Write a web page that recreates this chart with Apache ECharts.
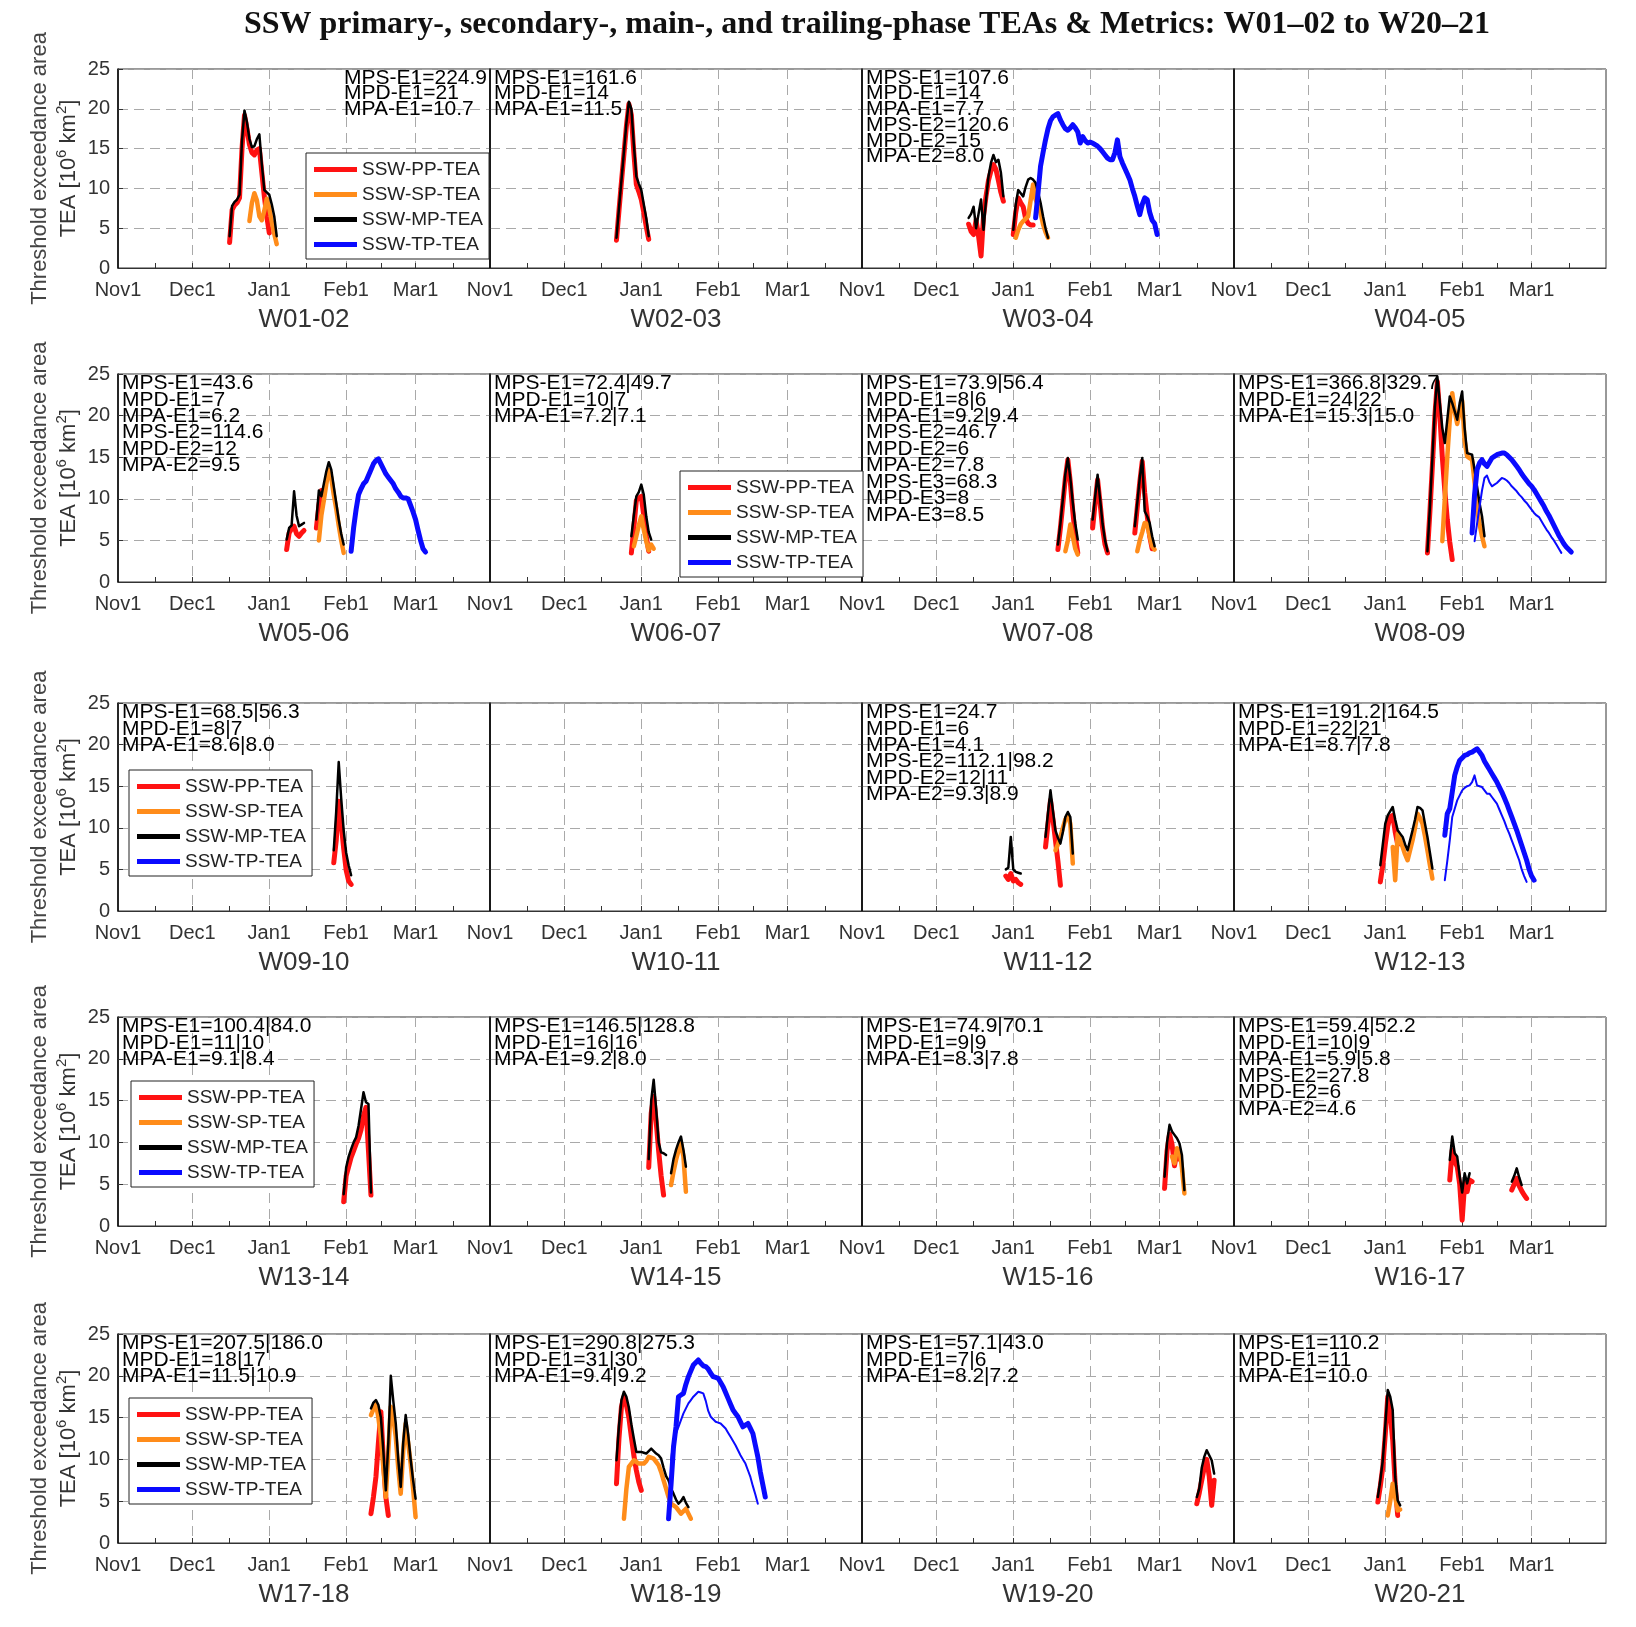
<!DOCTYPE html>
<html><head><meta charset="utf-8">
<script src="https://cdn.jsdelivr.net/npm/echarts@6/dist/echarts.min.js"></script>
<style>html,body{margin:0;padding:0;background:#fff}#c{width:1636px;height:1627px}</style>
</head><body><div id="c"></div>
<script>
// ---------- data ----------
const seasons = ['W01-02','W02-03','W03-04','W04-05','W05-06','W06-07','W07-08','W08-09','W09-10','W10-11',
                 'W11-12','W12-13','W13-14','W14-15','W15-16','W16-17','W17-18','W18-19','W19-20','W20-21'];
const monthNames = ['Nov','Dec','Jan','Feb','Mar'];
const monthLengths = [30,31,31,28,31];
const tickLabels = ['Nov1','Dec1','Jan1','Feb1','Mar1'];
const gridDays = [30,61,92,120];
const minorTickDays = [15,30,45,61,76,92,106,120,135];
const seriesNames = ['SSW-PP-TEA','SSW-SP-TEA','SSW-MP-TEA','SSW-TP-TEA'];

// segments: [start day index (0 = Nov1), daily values]
const PP = {
 'W01-02': [[45,[3.2,7.3,7.9,8.2,8.8,15,19.2,17.5,15.5,14.5,14.2,14.8,15.0,12,9,6.5,4.4]]],
 'W02-03': [[51,[3.5,7.2,10.8,14.3,17.8,20.6,19.2,14.5,10.5,9.6,8.6,7.0,5.2,3.6]]],
 'W03-04': [[43,[5.5,4.6,4.2,6.0,4.0,1.5,6.5,9.0,11.0,12.2,13.0,12.4,11.0,9.5,8.4]],[61,[4.2,7.0,8.8,8.2,7.7,6.2,5.6,5.4,5.4]]],
 'W05-06': [[68,[3.9,5.9,6.4,6.7,5.8,5.5,5.9,6.2]],[80,[6.5,9.2,11.0]]],
 'W06-07': [[57,[3.5,6.5,9.8,10.1,10.3,8.0,5.5,3.7]]],
 'W07-08': [[79,[3.9,6.5,9.5,12.5,14.7,12.0,8.5,5.5,3.5]],[93,[6.5,9.5,12.3,9.5,6.5,4.5,3.5]],[110,[5.9,9.0,12.0,14.5,10.7,8.0,5.5,4.0]]],
 'W08-09': [[78,[3.5,8.5,14,20,24.1,20,15,11,7.5,4.8,2.7]]],
 'W09-10': [[87,[5.8,8.5,13.2,10.5,7.5,4.9,3.6,3.2]]],
 'W11-12': [[58,[4.2,3.8,4.5,3.6,3.8,3.4,3.2]],[74,[7.7,10.5,13.3,11.0,8.5,6.0,3.1]]],
 'W12-13': [[59,[3.5,5.5,8.0,10.2,11.3,11.5,9.5,8.0]]],
 'W13-14': [[91,[2.9,6.0,7.1,8.2,9.0,9.8,10.5,11.5,13.2,14.2,9.0,3.7]]],
 'W14-15': [[64,[7.0,13.5,15.5,12.5,9.0,6.0,3.7]]],
 'W15-16': [[122,[4.5,9.0,11.0,9.8,7.2,9.0,8.0]]],
 'W16-17': [[87,[5.5,9.1,7.7,7.1,5.0,0.7,5.1,4.1,5.5,5.3]],[112,[4.3,5.0,5.7,4.8,4.2,3.7,3.3]]],
 'W17-18': [[102,[3.5,5.5,7.9,12.0,15.7,10.0,5.5,3.3]]],
 'W18-19': [[51,[7.1,12.5,16.3,17.5,16.5,15.0,12.7,10.5,8.7,7.3,6.3]]],
 'W19-20': [[135,[4.7,6.0,7.5,9.0,10.0,8.0,4.5,7.5]]],
 'W20-21': [[58,[4.9,6.8,9.1,13.0,17.5,15.5,12.3,7.0,3.3]]]
};
const SP = {
 'W01-02': [[53,[5.9,8.2,9.4,8.5,6.5,6.0,7.2,8.7,7.5,5.8,4.3,3.0]]],
 'W03-04': [[62,[3.8,4.8,5.5,5.9,6.2,6.5,8.5,10.5,8.6,7.8,6.9,5.5,4.5,3.8]]],
 'W05-06': [[81,[5.0,8.0,9.8,11.8,13.5,12.5,10.5,8.8,6.8,5.0,3.5]]],
 'W06-07': [[58,[4.3,5.5,6.8,7.9,6.3,4.9,3.8,4.5,4.0]]],
 'W07-08': [[82,[3.7,5.0,6.9,5.5,4.0,3.3]],[111,[3.7,5.0,6.0,7.1,7.0,5.5,4.3,3.9]]],
 'W08-09': [[84,[4.9,10,15,19.5,22.7,20.5,19.0,20.5,21.8,17,15.1,14.9,14.7,12,8.7,7,5.5,4.3]]],
 'W11-12': [[78,[7.3,8.0,8.9,10.0,11.0,11.5,10.5,5.7]]],
 'W12-13': [[64,[7.7,3.7,9.3,8.5,7.7,6.8,6.1,7.3,8.5,10.0,11.7,11.2,10.5,9.0,7.3,5.5,3.9]]],
 'W14-15': [[73,[4.9,6.5,7.9,9.0,9.9,8.3,4.1]]],
 'W15-16': [[125,[8.3,7.5,9.3,9.1,7.0,3.9]]],
 'W17-18': [[102,[15.3,16.0,16.7,15.0,12.7,9.0,5.5,11.0,16.3,15.0,12.7,9.0,5.9,11.0,14.3,12.0,9.5,6.5,3.1]]],
 'W18-19': [[54,[2.9,6.5,9.1,9.5,9.9,9.7,9.5,9.5,9.5,9.8,10.3,10.2,10.1,9.7,9.3,8.5,7.5,6.5,5.5,4.7,4.5,4.3,3.9,3.5,3.8,4.1,3.5,2.9]]],
 'W20-21': [[62,[3.3,5.0,7.1,5.5,3.9,4.0]]]
};
const MP = {
 'W01-02': [[45,[4.0,7.8,8.3,8.6,9.2,16,19.8,18.3,16.2,15.2,15.3,16.2,16.8,13,9.8,9.5,9.2,8.0,6.5,4.0]]],
 'W02-03': [[51,[3.8,7.5,11,14.6,18.2,20.9,20,15.5,11.5,10.6,9.8,8.0,6.3,4.0]]],
 'W03-04': [[43,[6.3,6.8,7.7,5.0,6.8,8.6,4.8,8.5,11.5,13.2,14.2,13.3,13.6,12.0,9.0]],[61,[4.8,8.0,9.8,9.4,9.0,10.2,11.1,11.3,11.1,10.7,9.5,8.2,6.5,5.0,3.8]]],
 'W05-06': [[68,[5.1,6.5,6.8,10.9,8.0,6.7,6.9,7.1]],[80,[7.5,11.0,10.3,11.8,13.3,14.4,13.5,11.5,9.5,7.5,5.8,4.5]]],
 'W06-07': [[57,[5.5,8.0,10.3,10.8,11.7,10.5,7.9,6.0,5.1]]],
 'W07-08': [[79,[4.5,7.0,10.0,13.0,14.9,12.5,9.5,7.0,5.1]],[93,[7.5,10.2,12.9,10.0,7.0,5.0,3.7]],[110,[6.7,9.5,12.5,14.9,8.5,7.9,7.1,5.5,4.3]]],
 'W08-09': [[78,[3.7,9,15,21,24.7,21.5,18.5,16.7,19.5,22.3,21.5,20.5,19.5,21.5,22.9,18.5,15.5,15.4,15.3,13.5,11.5,9.5,7.9,5.5]]],
 'W09-10': [[87,[7.3,12.0,17.9,13.5,9.7,7.0,5.5,4.3]]],
 'W11-12': [[58,[5.0,5.2,8.9,5.0,4.7,4.6,4.5]],[74,[8.9,11.8,14.5,12.0,9.7,8.8,8.1,9.5,11.3,11.9,11.3,6.9]]],
 'W12-13': [[59,[5.5,8.0,10.5,11.5,12.0,12.5,11.0,9.7,9.3,8.9,8.0,7.3,8.5,9.7,11.0,12.5,12.4,12.1,10.5,8.9,7.0,5.1]]],
 'W13-14': [[91,[3.8,7.0,8.3,9.2,10.0,10.6,12.0,14.0,16.0,14.8,14.6,4.0]]],
 'W14-15': [[64,[8.0,15.0,17.5,14.0,10.0,8.8,8.7,8.5]],[73,[6.3,8.0,9.1,10.0,10.7,9.1,7.1]]],
 'W15-16': [[122,[5.9,10.0,12.1,11.3,10.9,10.5,9.9,8.5,4.3]]],
 'W16-17': [[87,[7.9,10.7,8.7,8.3,6.0,4.0,6.3,5.1,6.3]],[112,[5.3,6.0,6.9,5.8,4.9]]],
 'W17-18': [[102,[16.1,16.8,17.1,16.5,15.0,11.0,6.3,12.0,20.0,17.0,14.3,10.0,6.7,12.0,15.3,13.0,10.0,7.5,5.3]]],
 'W18-19': [[51,[9.9,14,17.1,18.1,17.5,16.2,14.2,12.5,10.9,10.9,10.9,10.8,10.7,11.0,11.3,11.0,10.7,10.5,10.1,9.0,8.0,7.5,6.5,5.9,5.2,4.7,5.0,5.5,4.8,4.3]]],
 'W19-20': [[135,[5.5,6.5,9.0,10.3,11.1,10.5,9.9,8.3]]],
 'W20-21': [[58,[5.5,7.5,9.9,14.0,18.3,17.5,15.9,7.9,5.1,4.5]]]
};
const TP = {
 'W03-04': [[70,[6.3,9.5,12.8,14.5,16.1,17.5,18.5,19.0,19.2,19.4,18.6,18.0,17.5,17.3,17.6,18.0,17.6,17.1,15.7,16.5,16.0,15.7,15.8,15.7,15.5,15.3,15.0,14.6,14.2,13.8,13.6,13.6,14.5,16.1,14.0,13.2,12.5,11.8,11.1,10.0,9.0,7.8,6.7,8.0,8.8,8.6,7.0,6.0,5.6,4.2]]],
 'W05-06': [[94,[3.7,6.5,8.7,10.5,11.2,11.8,12.1,12.8,13.5,14.2,14.6,14.8,14.2,13.6,13.0,12.6,12.2,11.8,11.2,10.8,10.3,10.1,10.1,10.0,9.2,8.4,7.5,6.2,5.0,4.0,3.6]]],
 'W08-09': [[96,[5.9,10.5,13.5,14.3,14.7,14.2,13.9,14.4,14.9,15.1,15.3,15.4,15.5,15.5,15.3,15.0,14.7,14.3,13.9,13.5,13.0,12.6,12.2,11.8,11.5,11.1,10.6,10.1,9.6,9.1,8.5,8.0,7.4,6.8,6.2,5.6,5.1,4.6,4.2,3.9,3.6]]],
 'W12-13': [[85,[9.1,11.7,12.3,14.3,16.3,17.3,18.1,18.4,18.7,18.8,19.0,19.1,19.3,19.5,19.1,18.7,18.0,17.5,17.0,16.5,16.0,15.5,14.9,14.3,13.6,12.9,12.1,11.3,10.5,9.7,8.8,7.9,7.0,6.1,5.0,4.2,3.7]]],
 'W18-19': [[72,[2.9,7.0,11.5,13.9,17.5,17.7,17.9,19.0,19.9,20.6,21.3,21.6,21.9,21.5,21.2,21.1,20.8,20.3,19.9,19.8,19.7,19.2,18.7,18.0,17.3,16.6,15.9,15.5,15.1,14.5,13.9,14.1,14.3,13.7,13.1,11.7,10.3,8.5,7.0,5.5]]]
};
const TP_thin = {
 'W08-09': [[97,[4.9,7.0,9.0,11.0,12.5,12.8,12.0,11.5,11.7,11.9,12.2,12.5,12.4,12.2,11.9,11.5,11.2,10.9,10.5,10.2,9.8,9.5,9.1,8.7,8.3,8.0,7.8,7.3,6.8,6.3,5.9,5.4,5.0,4.5,4.0,3.5]]],
 'W12-13': [[85,[3.7,6.0,8.5,11.3,12.3,13.3,13.9,14.5,14.8,15.0,15.1,15.5,16.3,15.1,15.0,14.9,14.5,14.1,14.1,13.7,13.3,12.9,12.2,11.5,10.8,10.0,9.3,8.5,7.7,6.9,6.1,5.0,4.2,3.5]]],
 'W18-19': [[73,[9.9,12.3,13.1,13.9,14.7,15.5,16.1,16.7,17.1,17.5,17.8,18.1,18.0,17.9,17.0,15.8,15.1,14.8,14.5,14.4,14.3,14.0,13.7,13.2,12.7,12.2,11.7,11.1,10.5,10.0,9.5,8.7,7.9,6.8,5.8,4.7]]]
};
const metrics = {
 'W01-02': 'MPS-E1=224.9\nMPD-E1=21\nMPA-E1=10.7',
 'W02-03': 'MPS-E1=161.6\nMPD-E1=14\nMPA-E1=11.5',
 'W03-04': 'MPS-E1=107.6\nMPD-E1=14\nMPA-E1=7.7\nMPS-E2=120.6\nMPD-E2=15\nMPA-E2=8.0',
 'W05-06': 'MPS-E1=43.6\nMPD-E1=7\nMPA-E1=6.2\nMPS-E2=114.6\nMPD-E2=12\nMPA-E2=9.5',
 'W06-07': 'MPS-E1=72.4|49.7\nMPD-E1=10|7\nMPA-E1=7.2|7.1',
 'W07-08': 'MPS-E1=73.9|56.4\nMPD-E1=8|6\nMPA-E1=9.2|9.4\nMPS-E2=46.7\nMPD-E2=6\nMPA-E2=7.8\nMPS-E3=68.3\nMPD-E3=8\nMPA-E3=8.5',
 'W08-09': 'MPS-E1=366.8|329.7\nMPD-E1=24|22\nMPA-E1=15.3|15.0',
 'W09-10': 'MPS-E1=68.5|56.3\nMPD-E1=8|7\nMPA-E1=8.6|8.0',
 'W11-12': 'MPS-E1=24.7\nMPD-E1=6\nMPA-E1=4.1\nMPS-E2=112.1|98.2\nMPD-E2=12|11\nMPA-E2=9.3|8.9',
 'W12-13': 'MPS-E1=191.2|164.5\nMPD-E1=22|21\nMPA-E1=8.7|7.8',
 'W13-14': 'MPS-E1=100.4|84.0\nMPD-E1=11|10\nMPA-E1=9.1|8.4',
 'W14-15': 'MPS-E1=146.5|128.8\nMPD-E1=16|16\nMPA-E1=9.2|8.0',
 'W15-16': 'MPS-E1=74.9|70.1\nMPD-E1=9|9\nMPA-E1=8.3|7.8',
 'W16-17': 'MPS-E1=59.4|52.2\nMPD-E1=10|9\nMPA-E1=5.9|5.8\nMPS-E2=27.8\nMPD-E2=6\nMPA-E2=4.6',
 'W17-18': 'MPS-E1=207.5|186.0\nMPD-E1=18|17\nMPA-E1=11.5|10.9',
 'W18-19': 'MPS-E1=290.8|275.3\nMPD-E1=31|30\nMPA-E1=9.4|9.2',
 'W19-20': 'MPS-E1=57.1|43.0\nMPD-E1=7|6\nMPA-E1=8.2|7.2',
 'W20-21': 'MPS-E1=110.2\nMPD-E1=11\nMPA-E1=10.0'
};
const titleText = 'SSW primary-, secondary-, main-, and trailing-phase TEAs & Metrics: W01\u201302 to W20\u201321';

// ---------- layout & style ----------
const L = { left: 118, panelW: 372, rowTop: [69, 374, 703, 1017, 1334], rowH: [199, 208, 208, 209, 209] };
const metricOffset = { 'W01-02': 226 };
const legendPos = { 'W01-02': [188, 84], 'W06-07': [190, 97], 'W09-10': [11, 67], 'W13-14': [13, 64], 'W17-18': [11, 64] };
const FONT = '"Liberation Sans", Arial, sans-serif';
const GRIDLINE = { color: '#a9a9a9', type: [10, 6], width: 1 };
const styles = [
  { table: PP, name: 'SSW-PP-TEA', color: '#ff1212', width: 5 },
  { table: SP, name: 'SSW-SP-TEA', color: '#ff8c1a', width: 4.5 },
  { table: MP, name: 'SSW-MP-TEA', color: '#000000', width: 2.5 },
  { table: TP, name: 'SSW-TP-TEA', color: '#0a0aff', width: 5 },
  { table: TP_thin, name: 'SSW-TP-TEA', color: '#0a0aff', width: 2 }
];

const days = [];
monthNames.forEach((m, i) => { for (let d = 1; d <= monthLengths[i]; d++) days.push(m + d); });

const grids = [], xAxes = [], yAxes = [], series = [], legends = [], graphics = [];
const yName = '{n|Threshold exceedance area}\n{t|TEA [10}{s|6}{t| km}{s|2}{t|]}';

seasons.forEach((s, i) => {
  const r = Math.floor(i / 4), c = i % 4;
  const left = L.left + c * L.panelW, top = L.rowTop[r], h = L.rowH[r];
  grids.push({ left, top, width: L.panelW, height: h, show: true, borderColor: '#333', borderWidth: 1 });
  xAxes.push({
    gridIndex: i, type: 'category', data: days, boundaryGap: false,
    axisLine: { show: true, onZero: false, lineStyle: { color: '#333', width: 1 } },
    axisTick: { show: true, inside: true, length: 5, interval: (idx) => minorTickDays.includes(idx), lineStyle: { color: '#333' } },
    axisLabel: { show: true, interval: (idx, val) => tickLabels.includes(val), margin: 12, fontSize: 20, color: '#333', fontFamily: FONT },
    splitLine: { show: true, interval: (idx) => gridDays.includes(idx), lineStyle: GRIDLINE },
    name: s, nameLocation: 'middle', nameGap: 39,
    nameTextStyle: { fontSize: 26, color: '#333', fontFamily: FONT }
  });
  yAxes.push({
    gridIndex: i, type: 'value', min: 0, max: 25, interval: 5,
    axisLine: { show: true, lineStyle: { color: '#000', width: 1.5 } },
    axisTick: { show: c === 0, inside: true, length: 5, lineStyle: { color: '#333' } },
    axisLabel: { show: c === 0, fontSize: 20, color: '#333', margin: 8, fontFamily: FONT },
    splitLine: { show: true, lineStyle: GRIDLINE },
    name: c === 0 ? yName : '', nameLocation: 'middle', nameGap: 35, nameRotate: 90,
    nameTextStyle: {
      color: '#444', fontFamily: FONT, fontSize: 22,
      rich: {
        n: { fontSize: 22, color: '#444', fontFamily: FONT, lineHeight: 29 },
        t: { fontSize: 22, color: '#333', fontFamily: FONT, lineHeight: 29 },
        s: { fontSize: 15, color: '#333', fontFamily: FONT, lineHeight: 15, verticalAlign: 'top' }
      }
    }
  });
  styles.forEach(st => {
    const segs = st.table[s];
    if (!segs) return;
    segs.forEach(seg => {
      series.push({
        type: 'line', name: st.name, xAxisIndex: i, yAxisIndex: i,
        data: seg[1].map((v, k) => [seg[0] + k, v]),
        showSymbol: false, symbol: 'none', color: st.color,
        lineStyle: { color: st.color, width: st.width, join: 'round', cap: 'round' },
        silent: true, z: 2
      });
    });
  });
  if (metrics[s]) {
    graphics.push({
      type: 'text', x: left + (metricOffset[s] || 4), y: top + 1, z: 100, silent: true,
      style: { text: metrics[s], fill: '#000', font: '21px "Liberation Sans", Arial, sans-serif',
               lineHeight: h * 0.0792, align: 'left', verticalAlign: 'top', textAlign: 'left', textVerticalAlign: 'top' }
    });
  }
  if (legendPos[s]) {
    legends.push({
      show: true, orient: 'vertical', left: left + legendPos[s][0], top: top + legendPos[s][1],
      data: seriesNames, icon: 'rect', itemWidth: 43, itemHeight: 5, itemGap: 6,
      padding: [7, 6, 5, 8], borderColor: '#222', borderWidth: 1, backgroundColor: '#fff',
      selectedMode: false, z: 10,
      textStyle: { fontSize: 19, color: '#222', fontFamily: FONT }
    });
  }
});

graphics.push({
  type: 'text', x: 867, y: 25, z: 100, silent: true,
  style: { text: titleText, fill: '#111', font: 'bold 32px "Liberation Serif", "Times New Roman", serif',
           align: 'center', verticalAlign: 'middle', textAlign: 'center', textVerticalAlign: 'middle' }
});

const chart = echarts.init(document.getElementById('c'), null, { renderer: 'canvas', width: 1636, height: 1627 });
chart.setOption({
  animation: false,
  backgroundColor: '#fff',
  grid: grids, xAxis: xAxes, yAxis: yAxes,
  legend: legends, series, graphic: graphics
});
</script>
</body></html>
